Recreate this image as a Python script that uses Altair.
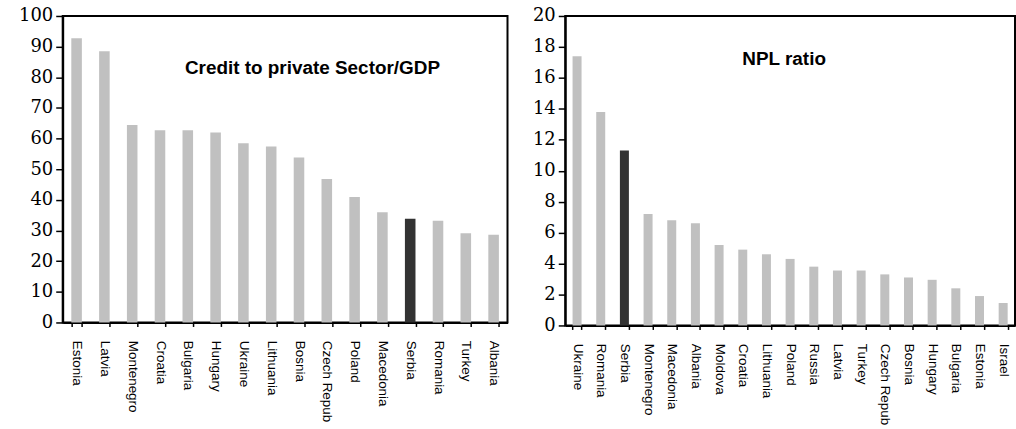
import altair as alt
import pandas as pd

credit_countries = ["Estonia", "Latvia", "Montenegro", "Croatia", "Bulgaria", "Hungary",
                    "Ukraine", "Lithuania", "Bosnia", "Czech Repub", "Poland", "Macedonia",
                    "Serbia", "Romania", "Turkey", "Albania"]
credit_values = [92.7, 88.5, 64.4, 62.7, 62.7, 62.0, 58.5, 57.4, 53.8, 46.8, 40.9, 36.0,
                 33.8, 33.2, 29.1, 28.6]

npl_countries = ["Ukraine", "Romania", "Serbia", "Montenegro", "Macedonia", "Albania",
                 "Moldova", "Croatia", "Lithuania", "Poland", "Russia", "Latvia", "Turkey",
                 "Czech Repub", "Bosnia", "Hungary", "Bulgaria", "Estonia", "Israel"]
npl_values = [17.4, 13.8, 11.3, 7.2, 6.8, 6.6, 5.2, 4.9, 4.6, 4.3, 3.8, 3.55, 3.55, 3.3,
              3.1, 2.95, 2.4, 1.9, 1.45]

highlight = "Serbia"
credit_title = "Credit to private Sector/GDP"
npl_title = "NPL ratio"
credit_ticks = [0, 10, 20, 30, 40, 50, 60, 70, 80, 90, 100]
npl_ticks = [0, 2, 4, 6, 8, 10, 12, 14, 16, 18, 20]

SERIF = "DejaVu Serif"
SANS = "Liberation Sans"


def panel(countries, values, ticks, width, height, title, tx, ty):
    df = pd.DataFrame({"country": countries, "value": values})
    df["group"] = ["hl" if c == highlight else "base" for c in countries]
    pin = 0.62
    bars = alt.Chart(df).mark_bar().encode(
        x=alt.X("country:N", sort=countries, title=None,
                scale=alt.Scale(paddingInner=pin, paddingOuter=pin / 2),
                axis=alt.Axis(labelAngle=90, tickBand="extent", labelAlign="left",
                              labelBaseline="middle", labelFont=SANS, labelFontSize=13.5,
                              tickSize=4, labelPadding=14, labelColor="black")),
        y=alt.Y("value:Q", title=None,
                scale=alt.Scale(domain=[ticks[0], ticks[-1]], nice=False),
                axis=alt.Axis(values=ticks, labelFont=SERIF, labelFontSize=18,
                              tickSize=7, labelPadding=3, labelColor="black")),
        color=alt.Color("group:N", legend=None,
                        scale=alt.Scale(domain=["base", "hl"], range=["#c0c0c0", "#333333"])),
    )
    txt = alt.Chart(pd.DataFrame({"t": [title]})).mark_text(
        font=SANS, fontWeight="bold", fontSize=19, color="black",
        align="center", baseline="middle"
    ).encode(text="t:N", x=alt.value(tx), y=alt.value(ty))
    return alt.layer(bars, txt).properties(width=width, height=height)


left = panel(credit_countries, credit_values, credit_ticks, 447, 308, credit_title, 251, 52)
right = panel(npl_countries, npl_values, npl_ticks, 452, 311, npl_title, 220, 43)

chart = alt.hconcat(left, right, spacing=23).properties(
    padding={"left": 17, "top": 5, "right": 0, "bottom": 0}
).configure_view(
    stroke="black", strokeWidth=2
).configure_axis(
    grid=False, domainColor="black", domainWidth=2, tickColor="black", tickWidth=1.5,
    labelColor="black"
)

chart.save("out.html", embed_options={"renderer": "svg", "actions": False})
